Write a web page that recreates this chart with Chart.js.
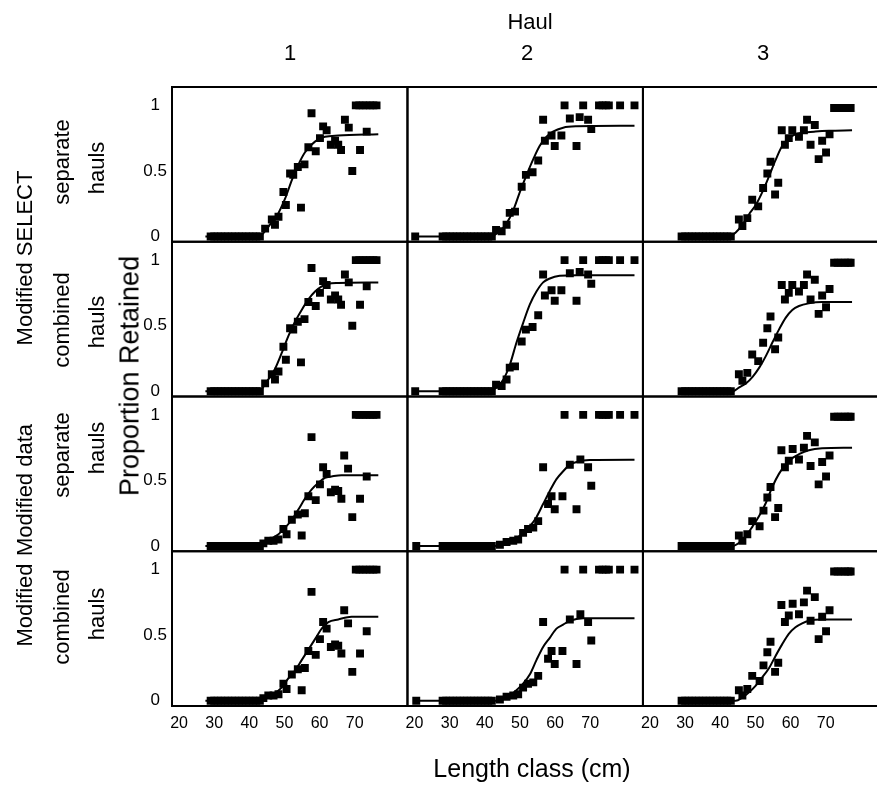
<!DOCTYPE html>
<html>
<head>
<meta charset="utf-8">
<script src="https://cdn.jsdelivr.net/npm/chart.js@4/dist/chart.umd.min.js"></script>
<style>
  html, body { margin:0; padding:0; background:#fff; width:877px; height:795px; overflow:hidden; }
  #wrap { position:relative; width:884px; height:795px; }
  canvas { position:absolute; left:0; top:0; }
  .t { position:absolute; font-family:"Liberation Sans", Arial, sans-serif; color:#000; white-space:nowrap; transform:translate(-50%,-50%); }
  .r { transform:translate(-50%,-50%) rotate(-90deg); }
</style>
</head>
<body>
<div id="wrap">
  <canvas id="c" width="884" height="795"></canvas>
</div>
<script>
// ---------- labels ----------
const HAUL_TITLE = 'Haul';
const HAULS = ['1', '2', '3'];
const X_TITLE = 'Length class (cm)';
const Y_TITLE = 'Proportion Retained';
const X_TICKS = [20, 30, 40, 50, 60, 70];
const Y_TICKS = [0, 0.5, 1];

// ---------- observed proportions (SELECT data: rows 1-2) ----------
const H1_LEN  = [29,30,31,32,33,34,35,36,37,38,39,40,41,42,43,44.5,46.4,47.3,48.3,49.7,50.4,51.6,52.5,53.8,54.7,55.7,56.8,57.7,58.9,60.1,61.0,62.0,63.2,64.4,65.3,66.1,67.2,68.3,69.3,71.5,73.4,70.3,71.3,72.3,73.3,74.3,75.3,76.2];
const H1_PROP = [0,0,0,0,0,0,0,0,0,0,0,0,0,0,0,0.06,0.13,0.09,0.15,0.34,0.24,0.48,0.47,0.53,0.22,0.55,0.68,0.94,0.65,0.75,0.84,0.81,0.70,0.73,0.70,0.66,0.89,0.83,0.50,0.66,0.80,1,1,1,1,1,1,1];

const H2_LEN  = [20.2,28,29,30,31,32,33,34,35,36,37,38,39,40,41,42,43.2,44.8,46.2,47.1,48.6,50.5,51.7,53.6,55.2,56.6,57.1,59.0,59.9,61.8,64.2,66.1,67.0,69.4,70.3,62.7,68.0,72.5,73.5,74.5,75.3,78.5,82.6];
const H2_PROP = [0,0,0,0,0,0,0,0,0,0,0,0,0,0,0,0,0.05,0.04,0.09,0.18,0.19,0.38,0.47,0.49,0.58,0.89,0.73,0.77,0.69,0.77,0.90,0.69,0.91,0.89,0.82,1,1,1,1,1,1,1,1];

const H3_LEN  = [29,30,31,32,33,34,35,36,37,38,39,40,41,42,43,45.3,46.3,47.7,49.1,50.8,52.2,53.4,54.3,55.6,56.5,57.5,58.4,59.5,60.5,62.4,63.8,64.7,65.7,66.9,68.0,69.0,70.1,71.1,72.4,73.4,74.5,75.5,76.5,77.1];
const H3_PROP = [0,0,0,0,0,0,0,0,0,0,0,0,0,0,0,0.13,0.08,0.14,0.28,0.23,0.37,0.48,0.57,0.32,0.41,0.81,0.70,0.75,0.81,0.76,0.81,0.89,0.70,0.85,0.59,0.73,0.64,0.78,0.98,0.98,0.98,0.98,0.98,0.98];

// ---------- observed proportions (Modified data: rows 3-4) ----------
const H1M_LEN  = [29,30,31,32,33,34,35,36,37,38,39,40,41,42,43,44,45.4,46.9,48.3,49.7,50.6,52.1,53.8,54.9,55.8,56.8,57.7,58.9,60.1,61.0,62.0,63.2,64.4,65.3,66.2,67.0,68.1,69.3,71.5,73.4,70.3,71.3,72.3,73.3,74.3,75.3,76.2];
const H1M_PROP = [0,0,0,0,0,0,0,0,0,0,0,0,0,0,0,0.02,0.04,0.04,0.05,0.13,0.09,0.20,0.24,0.08,0.25,0.38,0.83,0.35,0.47,0.60,0.55,0.41,0.43,0.42,0.36,0.69,0.59,0.22,0.36,0.53,1,1,1,1,1,1,1];

const H2M_LEN  = [20.5,28,29,30,31,32,33,34,35,36,37,38,39,40,41,42,44.3,46.2,48.1,49.5,50.9,52.3,53.8,55.2,56.6,58.0,59.0,59.9,62.1,64.2,66.1,67.2,69.4,70.3,62.7,68.0,72.5,73.5,74.5,75.3,78.5,82.6];
const H2M_PROP = [0,0,0,0,0,0,0,0,0,0,0,0,0,0,0,0,0.01,0.03,0.04,0.05,0.10,0.13,0.14,0.19,0.60,0.32,0.38,0.28,0.38,0.62,0.28,0.66,0.60,0.46,1,1,1,1,1,1,1,1];

const H3M_LEN  = [29,30,31,32,33,34,35,36,37,38,39,40,41,42,43,45.3,46.3,47.7,49.1,51.2,52.3,53.4,54.3,55.6,56.5,57.4,58.4,59.5,60.6,62.4,63.8,64.7,65.7,66.9,68.0,69.0,70.1,71.1,72.4,73.4,74.5,75.5,76.5,77.1];
const H3M_PROP = [0,0,0,0,0,0,0,0,0,0,0,0,0,0,0,0.08,0.04,0.09,0.19,0.15,0.27,0.37,0.45,0.22,0.29,0.73,0.60,0.65,0.74,0.66,0.75,0.84,0.61,0.79,0.47,0.64,0.53,0.69,0.985,0.985,0.985,0.985,0.985,0.985];

// ---------- fitted curves ----------
const FIT_R1C1_X = [27.5,41.7,43.5,45,46.4,48.3,50.2,52.1,54,55.8,57.7,59.6,61.5,65.3,76.7];
const FIT_R1C1_Y = [0,0.005,0.013,0.06,0.11,0.18,0.29,0.43,0.55,0.64,0.70,0.74,0.76,0.77,0.78];
const FIT_R2C1_X = [27.5,42.6,45.4,47.3,49.2,51.1,53,54.9,56.8,58.7,60.6,62.5,65.3,76.7];
const FIT_R2C1_Y = [0,0,0.09,0.17,0.29,0.42,0.53,0.62,0.70,0.76,0.80,0.82,0.826,0.83];
const FIT_R3C1_X = [27.5,43.1,44.5,46.4,48.3,50.2,52.1,54,55.8,57.7,59.6,61.5,63.4,66.2,76.7];
const FIT_R3C1_Y = [0,0.01,0.04,0.06,0.09,0.14,0.20,0.28,0.36,0.43,0.48,0.52,0.53,0.54,0.54];
const FIT_R4C1_X = [27.5,43.5,45.4,47.3,49.2,51.1,53,54.9,56.8,58.7,60.6,62.5,65.3,69.1,76.7];
const FIT_R4C1_Y = [0,0,0.04,0.06,0.10,0.17,0.23,0.31,0.39,0.47,0.55,0.60,0.62,0.64,0.64];

const FIT_R1C2_X = [20.2,41.5,44.3,46.2,48.1,50,51.9,53.8,55.6,57.5,59.4,62.3,66.1,82.6];
const FIT_R1C2_Y = [0,0,0.04,0.10,0.20,0.34,0.47,0.59,0.69,0.76,0.80,0.83,0.84,0.845];
const FIT_R2C2_X = [20.2,41.5,43.4,45.3,47.1,49,50.9,52.8,54.7,56.6,58.5,61.3,66.1,82.6];
const FIT_R2C2_Y = [0,0,0.03,0.09,0.20,0.37,0.52,0.66,0.76,0.83,0.86,0.88,0.885,0.885];
const FIT_R3C2_X = [20.2,41.5,45.3,47.1,49,50.9,52.8,54.7,56.6,58.5,60.4,62.3,64.2,66.1,69.8,82.6];
const FIT_R3C2_Y = [0,0,0.01,0.04,0.06,0.10,0.15,0.22,0.32,0.42,0.51,0.57,0.62,0.64,0.655,0.657];
const FIT_R4C2_X = [20.2,43.4,45.3,47.1,49,50.9,52.8,54.7,56.6,58.5,60.4,62.3,64.2,68,82.6];
const FIT_R4C2_Y = [0,0,0.02,0.04,0.08,0.13,0.20,0.31,0.41,0.48,0.55,0.58,0.61,0.63,0.63];

const FIT_R1C3_X = [29.3,42.5,44.4,46.3,48.2,50.1,52,53.9,55.7,57.6,59.5,61.4,63.3,67.1,70.9,77.5];
const FIT_R1C3_Y = [0,0,0.03,0.09,0.17,0.24,0.34,0.46,0.58,0.69,0.75,0.78,0.79,0.80,0.806,0.81];
const FIT_R2C3_X = [29.3,43.5,45.4,47.3,49.2,51.1,53,54.8,56.7,58.6,60.5,62.4,65.2,69,77.5];
const FIT_R2C3_Y = [0,0,0.03,0.06,0.11,0.18,0.27,0.37,0.47,0.56,0.62,0.65,0.67,0.68,0.68];
const FIT_R3C3_X = [29.3,43.5,45.4,47.3,49.2,51.1,53,54.8,56.7,58.6,60.5,62.4,65.2,69,77.5];
const FIT_R3C3_Y = [0,0,0.025,0.076,0.15,0.23,0.33,0.45,0.55,0.62,0.67,0.70,0.73,0.745,0.75];
const FIT_R4C3_X = [29.3,44.4,46.3,48.2,50.1,52,53.9,55.7,57.6,59.5,61.4,63.3,65.2,69,77.5];
const FIT_R4C3_Y = [0,0,0.025,0.064,0.115,0.18,0.25,0.34,0.43,0.51,0.56,0.59,0.61,0.62,0.62];

// ---------- assembly ----------
const OBS = [
  [[H1_LEN, H1_PROP], [H2_LEN, H2_PROP], [H3_LEN, H3_PROP]],
  [[H1_LEN, H1_PROP], [H2_LEN, H2_PROP], [H3_LEN, H3_PROP]],
  [[H1M_LEN, H1M_PROP], [H2M_LEN, H2M_PROP], [H3M_LEN, H3M_PROP]],
  [[H1M_LEN, H1M_PROP], [H2M_LEN, H2M_PROP], [H3M_LEN, H3M_PROP]]
];
const FITS = [
  [[FIT_R1C1_X, FIT_R1C1_Y], [FIT_R1C2_X, FIT_R1C2_Y], [FIT_R1C3_X, FIT_R1C3_Y]],
  [[FIT_R2C1_X, FIT_R2C1_Y], [FIT_R2C2_X, FIT_R2C2_Y], [FIT_R2C3_X, FIT_R2C3_Y]],
  [[FIT_R3C1_X, FIT_R3C1_Y], [FIT_R3C2_X, FIT_R3C2_Y], [FIT_R3C3_X, FIT_R3C3_Y]],
  [[FIT_R4C1_X, FIT_R4C1_Y], [FIT_R4C2_X, FIT_R4C2_Y], [FIT_R4C3_X, FIT_R4C3_Y]]
];

const FONT = '"Liberation Sans", Arial, sans-serif';
const pts = (xs, ys) => xs.map((x, i) => ({x: x, y: ys[i]}));

const datasets = [];
for (let r = 0; r < 4; r++) {
  for (let c = 0; c < 3; c++) {
    const o = OBS[r][c], f = FITS[r][c];
    datasets.push({
      data: pts(o[0], o[1]), xAxisID: 'x' + (c + 1), yAxisID: 'y' + (r + 1),
      showLine: false, pointStyle: 'rect', pointRadius: 5.6, pointHoverRadius: 5.6,
      backgroundColor: '#000', borderColor: '#000', borderWidth: 0
    });
    datasets.push({
      data: pts(f[0], f[1]), xAxisID: 'x' + (c + 1), yAxisID: 'y' + (r + 1),
      showLine: true, pointRadius: 0, borderColor: '#000', borderWidth: 2,
      cubicInterpolationMode: 'monotone', fill: false
    });
  }
}

const scales = {};
for (let c = 0; c < 3; c++) {
  scales['x' + (c + 1)] = {
    type: 'linear', axis: 'x', position: 'bottom', stack: 'cols', stackWeight: 1, weight: c + 1,
    min: 18, max: 85,
    grid: {display: false, drawTicks: false}, border: {display: false},
    ticks: {color: '#000', font: {family: FONT, size: 16}, padding: 8, maxRotation: 0, autoSkip: false},
    afterBuildTicks: s => { s.ticks = X_TICKS.map(v => ({value: v})); },
    afterFit: s => { s.height = 30; s.paddingLeft = 0; s.paddingRight = 0; }
  };
}
for (let r = 0; r < 4; r++) {
  scales['y' + (r + 1)] = {
    type: 'linear', axis: 'y', position: 'left', stack: 'rows', stackWeight: 1, weight: 4 - r,
    min: -0.04, max: 1.14,
    grid: {display: false, drawTicks: false}, border: {display: false},
    ticks: {color: '#000', font: {family: FONT, size: 17}, padding: 5, crossAlign: 'center',
            callback: v => String(v)},
    afterBuildTicks: s => { s.ticks = Y_TICKS.map(v => ({value: v})); },
    afterFit: s => { s.width = 40; s.paddingTop = 0; s.paddingBottom = 0; }
  };
}

const boxPlugin = {
  id: 'panelBoxes',
  afterDatasetsDraw(chart) {
    const ctx = chart.ctx;
    ctx.save();
    ctx.strokeStyle = '#000';
    ctx.lineWidth = 2;
    for (let c = 1; c <= 3; c++) {
      for (let r = 1; r <= 4; r++) {
        const xs = chart.scales['x' + c], ys = chart.scales['y' + r];
        ctx.strokeRect(xs.left, ys.top, xs.right - xs.left, ys.bottom - ys.top);
      }
    }
    ctx.restore();
  }
};

new Chart(document.getElementById('c'), {
  type: 'scatter',
  data: {datasets: datasets},
  options: {
    responsive: false, animation: false,
    layout: {padding: {left: 132, top: 87, right: 3, bottom: 59}},
    plugins: {legend: {display: false}, tooltip: {enabled: false}},
    scales: scales
  },
  plugins: [boxPlugin]
});

// ---------- text labels ----------
const wrap = document.getElementById('wrap');
function addText(txt, x, y, size, rotate) {
  const d = document.createElement('div');
  d.className = 't' + (rotate ? ' r' : '');
  d.textContent = txt;
  d.style.left = x + 'px';
  d.style.top = y + 'px';
  d.style.fontSize = size + 'px';
  wrap.appendChild(d);
}
addText(HAUL_TITLE, 530, 22, 22, false);
const colCenters = [290, 527, 763];
HAULS.forEach((h, i) => addText(h, colCenters[i], 53, 22, false));
addText(X_TITLE, 532, 768, 25, false);
addText(Y_TITLE, 130, 376, 27, true);
const ROW_TEXT = [
  ['Modified SELECT', 25, 258], ['separate', 62, 162], ['hauls', 97, 168],
  ['combined', 62, 320], ['hauls', 97, 322],
  ['Modified data', 25, 490], ['separate', 62, 455], ['hauls', 97, 448],
  ['Modified', 25, 605], ['combined', 62, 617], ['hauls', 97, 614]
];
ROW_TEXT.forEach(t => addText(t[0], t[1], t[2], 22, true));
</script>
</body>
</html>
